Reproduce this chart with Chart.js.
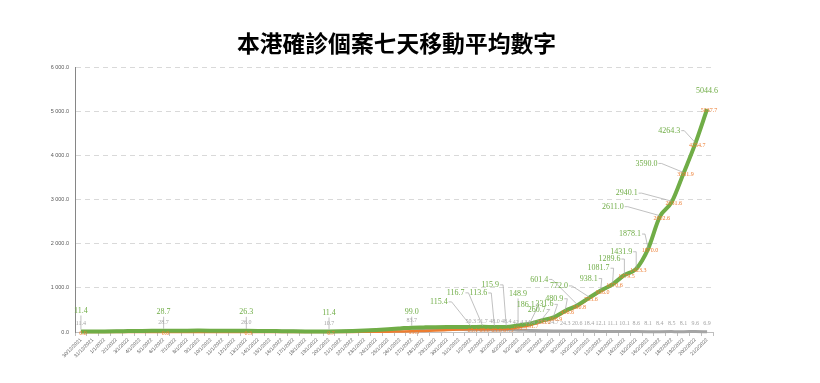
<!DOCTYPE html>
<html>
<head>
<meta charset="utf-8">
<script src="https://cdn.jsdelivr.net/npm/chart.js@4.4.1/dist/chart.umd.min.js"></script>
<style>
html,body{margin:0;padding:0;background:#fff;}
#wrap{width:820px;height:383px;position:relative;}
</style>
</head>
<body>
<div id="wrap"><canvas id="c" width="820" height="383"></canvas></div>
<script>
// ---- data (7-day moving averages) ----
const chartTitle = "本港確診個案七天移動平均數字";

const dates = [
  "30/12/2021","31/12/2021",
  "1/1/2022","2/1/2022","3/1/2022","4/1/2022","5/1/2022","6/1/2022","7/1/2022","8/1/2022","9/1/2022","10/1/2022",
  "11/1/2022","12/1/2022","13/1/2022","14/1/2022","15/1/2022","16/1/2022","17/1/2022","18/1/2022","19/1/2022","20/1/2022",
  "21/1/2022","22/1/2022","23/1/2022","24/1/2022","25/1/2022","26/1/2022","27/1/2022","28/1/2022","29/1/2022","30/1/2022","31/1/2022",
  "1/2/2022","2/2/2022","3/2/2022","4/2/2022","5/2/2022","6/2/2022","7/2/2022","8/2/2022","9/2/2022","10/2/2022",
  "11/2/2022","12/2/2022","13/2/2022","14/2/2022","15/2/2022","16/2/2022","17/2/2022","18/2/2022","19/2/2022","20/2/2022","21/2/2022"
];

const totalAvg = [
  11.4, 12.0, 13.6, 16.1, 19.9, 23.4, 26.6, 28.7, 30.0, 30.9,
  31.3, 30.6, 29.3, 27.9, 26.3, 24.4, 22.0, 19.1, 16.3, 13.9,
  12.1, 11.4, 14.6, 21.9, 33.4, 48.0, 64.1, 81.3, 99.0, 104.2,
  109.0, 112.6, 114.9, 115.4, 116.7, 113.6, 115.9, 148.9, 186.1, 260.7,
  331.6, 480.9, 601.4, 772.0, 938.1, 1081.7, 1289.6, 1431.9, 1878.1, 2611.0,
  2940.1, 3590.0, 4264.3, 5044.6
];

const localAvg = [
  0.0, 0.0, 0.0, 0.0, 0.0, 0.0, 0.0, 0.0, 0.0, 0.1,
  0.1, 0.1, 0.1, 0.3, 0.3, 0.3, 0.4, 0.4, 0.6, 0.7,
  0.7, 0.7, 1.3, 2.0, 3.4, 5.1, 8.0, 11.6, 15.3, 24.0,
  33.6, 43.9, 54.4, 65.1, 65.0, 65.6, 67.5, 106.5, 151.7, 233.0,
  306.9, 456.6, 580.8, 753.6, 926.0, 1070.6, 1279.5, 1423.3, 1870.0, 2602.6,
  2931.6, 3581.9, 4254.7, 5037.7
];

const importedAvg = [
  11.4, 12.0, 13.6, 16.1, 19.9, 23.4, 26.6, 28.7, 30.0, 30.8,
  31.2, 30.5, 29.2, 27.6, 26.0, 24.1, 21.6, 18.7, 15.7, 13.2,
  11.4, 10.7, 13.3, 19.9, 30.0, 42.9, 56.1, 69.7, 83.7, 80.2,
  75.4, 68.7, 60.5, 50.3, 51.7, 48.0, 48.4, 42.4, 34.4, 27.7,
  24.7, 24.3, 20.6, 18.4, 12.1, 11.1, 10.1, 8.6, 8.1, 8.4,
  8.5, 8.1, 9.6, 6.9
];

// points that carry value labels
const labeledIdx = [0,7,14,21,28,33,34,35,36,37,38,39,40,41,42,43,44,45,46,47,48,49,50,51,52,53];

// ---- label layout (relative nudges from each point, in px) ----
const greenNudge = {
  0:[0,-21],7:[0,-19],14:[0,-19],21:[0,-19],28:[0,-16],
  33:[-32,-25],34:[-27,-34],35:[-16,-34],36:[-16,-42],37:[0,-32],38:[-4,-19],39:[-5,-11],
  40:[-9,-13],41:[-11,-12],42:[-38,-26],43:[-30,-12],44:[-12,-12],45:[-14,-16],46:[-15,-16],
  47:[-15,-17],48:[-18,-15],49:[-47,-10],50:[-45,-9],51:[-37,-10],52:[-26,-13],53:[0,-18]
};

function fmtNum(v){
  const s = v.toFixed(1);
  const parts = s.split('.');
  parts[0] = parts[0].replace(/\B(?=(\d{3})+(?!\d))/g, ' ');
  return parts.join('.');
}

const labelPlugin = {
  id: 'valueLabels',
  afterDatasetsDraw(chart) {
    const ctx = chart.ctx;
    ctx.save();
    const specs = [
      {ds:2, color:'#A5A5A5', font:'6px "Liberation Serif"', nudge:()=>[0,-8], leader:false},
      {ds:1, color:'#ED7D31', font:'6px "Liberation Serif"', nudge:()=>[2,1], leader:false},
      {ds:0, color:'#70AD47', font:'8px "Liberation Serif"', nudge:(i)=>greenNudge[i]||[0,-16], leader:true}
    ];
    specs.forEach(s => {
      const meta = chart.getDatasetMeta(s.ds);
      const data = chart.data.datasets[s.ds].data;
      ctx.font = s.font;
      ctx.textAlign = 'center';
      ctx.textBaseline = 'middle';
      labeledIdx.forEach(i => {
        const pt = meta.data[i];
        if (!pt) return;
        const [dx, dy] = s.nudge(i);
        const tx = pt.x + dx, ty = pt.y + dy;
        const text = data[i].toFixed(1);
        if (s.leader && i !== labeledIdx[labeledIdx.length-1]) {
          const w = ctx.measureText(text).width;
          ctx.strokeStyle = '#A6A6A6';
          ctx.lineWidth = 0.7;
          ctx.beginPath();
          if (Math.abs(dx) < 3) {
            ctx.moveTo(tx, ty + 5);
            ctx.lineTo(pt.x, pt.y - 2);
          } else {
            const sx = tx + w/2 + 1;
            ctx.moveTo(sx, ty);
            ctx.lineTo(sx + 3, ty);
            ctx.lineTo(pt.x, pt.y - 1);
          }
          ctx.stroke();
        }
        ctx.fillStyle = s.color;
        ctx.fillText(text, tx, ty);
      });
    });
    // title
    ctx.fillStyle = '#000';
    ctx.font = 'bold 22.8px "Noto Sans CJK TC"';
    ctx.textAlign = 'center';
    ctx.textBaseline = 'middle';
    ctx.fillText(chartTitle, 396.5, 43);
    ctx.restore();
  }
};

new Chart(document.getElementById('c'), {
  type: 'line',
  data: {
    labels: dates,
    datasets: [
      {label:'總數', data: totalAvg, borderColor:'#70AD47', borderWidth:4, pointRadius:0, cubicInterpolationMode:'monotone', clip:6},
      {label:'本地', data: localAvg, borderColor:'#ED7D31', borderWidth:2.5, pointRadius:0, cubicInterpolationMode:'monotone', clip:6},
      {label:'輸入', data: importedAvg, borderColor:'#A5A5A5', borderWidth:3, pointRadius:0, cubicInterpolationMode:'monotone', clip:6}
    ]
  },
  options: {
    responsive: false,
    animation: false,
    devicePixelRatio: 1,
    layout: { padding: {top: 67, right: 107, left: 0, bottom: 0} },
    plugins: { legend: {display:false}, title: {display:false}, tooltip: {enabled:false} },
    scales: {
      x: {
        type: 'category',
        offset: true,
        grid: { offset: true, drawOnChartArea: false, drawTicks: true, tickLength: 4, color:'#BFBFBF' },
        border: { display: true, color:'#BFBFBF', width:1 },
        ticks: { autoSkip:false, minRotation:45, maxRotation:45, padding:1, color:'#595959', font:{size:5, family:'"Liberation Sans"'} },
        afterFit: (scale) => { scale.height = 51; }
      },
      y: {
        min: 0, max: 6000,
        ticks: { stepSize: 1000, callback: (v) => fmtNum(v), color:'#595959', padding: 6, font:{size:5.5, family:'"Liberation Sans"'} },
        grid: { color:'#D9D9D9', drawTicks:false, lineWidth:1 },
        border: { display:true, color:'#868686', width:1, dash:[5,4] },
        afterFit: (scale) => { scale.width = 75; }
      }
    }
  },
  plugins: [labelPlugin]
});
</script>
</body>
</html>
